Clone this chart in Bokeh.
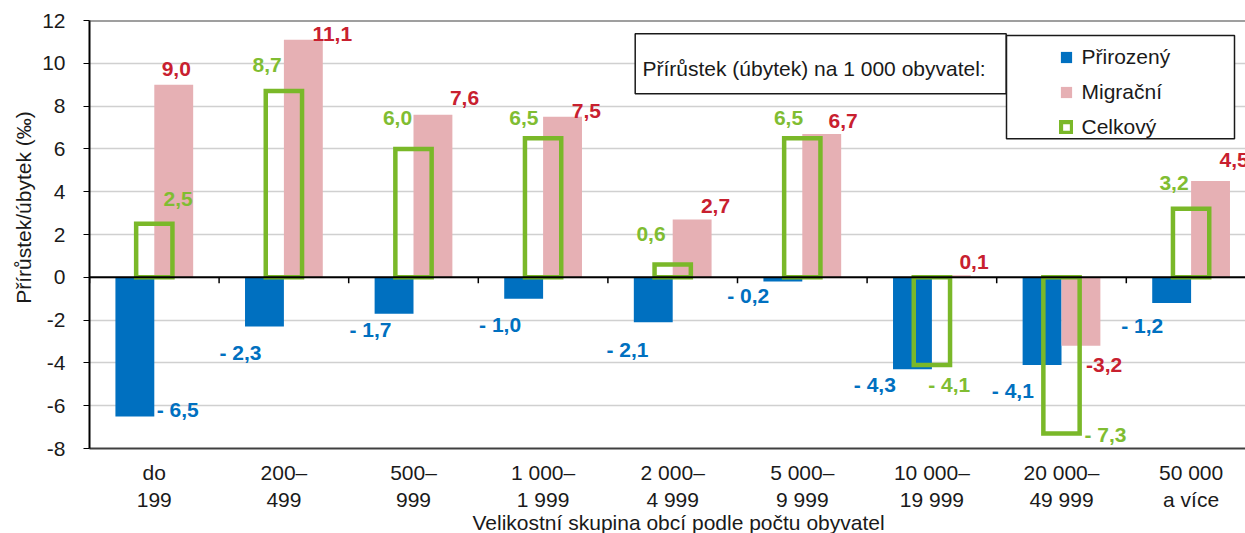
from bokeh.plotting import figure
from bokeh.models import (Range1d, FixedTicker, Span, Label, Legend, Title,
                          LegendItem, BoxAnnotation)
from bokeh.core.properties import value
from bokeh.embed import file_html
from bokeh.resources import INLINE

# ---------------- data ----------------
categories = ["do\n199", "200–\n499", "500–\n999", "1 000–\n1 999", "2 000–\n4 999",
              "5 000–\n9 999", "10 000–\n19 999", "20 000–\n49 999", "50 000\na více"]
prirozeny = [-6.5, -2.3, -1.7, -1.0, -2.1, -0.2, -4.3, -4.1, -1.2]
migracni = [9.0, 11.1, 7.6, 7.5, 2.7, 6.7, 0.1, -3.2, 4.5]
celkovy = [2.5, 8.7, 6.0, 6.5, 0.6, 6.5, -4.1, -7.3, 3.2]
y_ticks = [-8, -6, -4, -2, 0, 2, 4, 6, 8, 10, 12]
series_names = ["Přirozený", "Migrační", "Celkový"]

# label placement (screen px, relative to bar end) -- styling only
blue_dx = [42.8, -24, -23.6, -23.6, -25.8, -34.7, -37.6, -29.2, -29.5]
blue_dy = [-6.8, 26, 15.4, 25.9, 27.4, 13.8, 15.3, 25.6, 22.1]
pink_dx = [2.5, 28.9, 31.6, 23.8, 23.4, 21.4, 22.7, 23.2, 23.6]
pink_dy = [-15.8, -5.9, -16.6, -5.4, -13.4, -12.8, -13.6, 18.8, -21.4]
green_dx = [23.9, -16.7, -16, -19.3, -21.7, -13.8, 17.3, 44, -17.1]
green_dy = [-25.2, -26.5, -30.8, -20.1, -30.9, -20.1, 19.6, 1.1, -25.7]

BLUE = "#0070c0"
PINK = "#e6b0b4"
GREEN = "#7ab829"
RED_TXT = "#c8202f"
GREEN_TXT = "#80bd32"
TXT = "#1a1a1a"
FONT = "Liberation Sans"

W, H = 1245, 533
LEFT, TOP, FRAME_H = 89, 20, 428
CAT_PX = 129.6
n = len(categories)
x_end = (W - LEFT) / CAT_PX
y_lo, y_hi = -8, 12

p = figure(width=W, height=H, x_range=Range1d(0, x_end), y_range=Range1d(y_lo, y_hi),
           output_backend="svg", toolbar_location=None,
           min_border_left=LEFT, min_border_right=0, min_border_top=TOP,
           min_border_bottom=H - TOP - FRAME_H)
p.outline_line_color = None
p.background_fill_color = "white"
p.border_fill_color = "white"

centers = [i + 0.5 for i in range(n)]
shift = 0.15
bw = 0.30
gw = 0.28
xb = [c - shift for c in centers]
xp = [c + shift for c in centers]

p.ygrid.ticker = FixedTicker(ticks=y_ticks)
p.ygrid.grid_line_color = "#d0d0d0"
p.ygrid.grid_line_width = 1.5
p.xgrid.visible = False

rb = p.vbar(x=xb, top=prirozeny, bottom=0, width=bw, fill_color=BLUE, line_color=None)
rp = p.vbar(x=xp, top=migracni, bottom=0, width=bw, fill_color=PINK, line_color=None)

# category boundary ticks hanging below the zero line
tick_len = 6 * (y_hi - y_lo) / FRAME_H
bounds = list(range(n + 1))
p.segment(x0=bounds, x1=bounds, y0=[0] * len(bounds), y1=[-tick_len] * len(bounds),
          line_color="black", line_width=1.5)

rg = p.vbar(x=centers, top=celkovy, bottom=0, width=gw, fill_alpha=0,
            line_color=GREEN, line_width=4.5, line_join="miter")


def fmt(v, space=True):
    s = f"{abs(v):.1f}".replace(".", ",")
    if v < 0:
        return "-" + (" " if space else "") + s
    return s


common = dict(text_align="center", text_baseline="middle", text_font=value(FONT),
              text_font_style="bold", text_font_size="21px")
p.text(x=xb, y=prirozeny, text=[fmt(v) for v in prirozeny],
       x_offset=blue_dx, y_offset=blue_dy, text_color=BLUE, **common)
p.text(x=xp, y=migracni, text=[fmt(v, False) for v in migracni],
       x_offset=pink_dx, y_offset=pink_dy, text_color=RED_TXT, **common)
p.text(x=centers, y=celkovy, text=[fmt(v) for v in celkovy],
       x_offset=green_dx, y_offset=green_dy, text_color=GREEN_TXT, **common)

# ---------------- axes ----------------
yax = p.yaxis[0]
yax.ticker = FixedTicker(ticks=y_ticks)
yax.major_label_overrides = {t: str(t) for t in y_ticks}
yax.axis_line_color = "black"
yax.axis_line_width = 2
yax.major_tick_in = 0
yax.major_tick_out = 6
yax.major_tick_line_color = "black"
yax.minor_tick_line_color = None
yax.major_label_standoff = 18
yax.major_label_text_font = FONT
yax.major_label_text_font_size = "21px"
yax.major_label_text_color = TXT

xax = p.xaxis[0]
xax.ticker = FixedTicker(ticks=centers)
xax.major_label_overrides = {c: lab for c, lab in zip(centers, categories)}
xax.axis_line_color = "#404040"
xax.axis_line_width = 2
xax.major_tick_in = 0
xax.major_tick_out = 0
xax.minor_tick_line_color = None
xax.major_label_standoff = 12
xax.major_label_text_font = FONT
xax.major_label_text_font_size = "21px"
xax.major_label_text_color = TXT

p.add_layout(Span(location=0, dimension="width", line_color="black", line_width=2))
p.add_layout(Span(location=y_hi, dimension="width", line_color="#404040", line_width=2))

# axis titles
p.add_layout(Title(text="Přírůstek/úbytek (‰)", align="left", offset=144.7,
                   standoff=10, text_font=FONT, text_font_size="21px",
                   text_font_style="normal", text_color=TXT), "left")
p.add_layout(Title(text="Velikostní skupina obcí podle počtu obyvatel", align="left",
                   offset=383, standoff=-11, text_font=FONT, text_font_size="21px",
                   text_font_style="normal", text_color=TXT), "below")

# boxes: legend title and legend
p.add_layout(BoxAnnotation(left=545.7, right=916.7, top=414.7, bottom=354.7,
                           left_units="screen", right_units="screen",
                           top_units="screen", bottom_units="screen",
                           fill_color="white", fill_alpha=1,
                           line_color=TXT, line_width=1.5, line_alpha=1))
p.add_layout(BoxAnnotation(left=917, right=1145, top=413, bottom=309.7,
                           left_units="screen", right_units="screen",
                           top_units="screen", bottom_units="screen",
                           fill_color="white", fill_alpha=1,
                           line_color=TXT, line_width=1.5, line_alpha=1))
p.add_layout(Label(x=553, y=379.7, x_units="screen", y_units="screen",
                   text="Přírůstek (úbytek) na 1 000 obyvatel:",
                   text_align="left", text_baseline="middle", text_font=FONT,
                   text_font_size="21px", text_color=TXT))

legend = Legend(items=[LegendItem(label=series_names[0], renderers=[rb]),
                       LegendItem(label=series_names[1], renderers=[rp]),
                       LegendItem(label=series_names[2], renderers=[rg])],
                location=(969.5, 308.5), orientation="vertical",
                glyph_width=14, glyph_height=14, padding=5, spacing=10,
                label_standoff=9, label_height=25, margin=0,
                label_text_font=FONT, label_text_font_size="21px",
                label_text_color=TXT, border_line_color=None,
                background_fill_alpha=0)
p.add_layout(legend)

open("out.html", "w").write(file_html(p, INLINE))
